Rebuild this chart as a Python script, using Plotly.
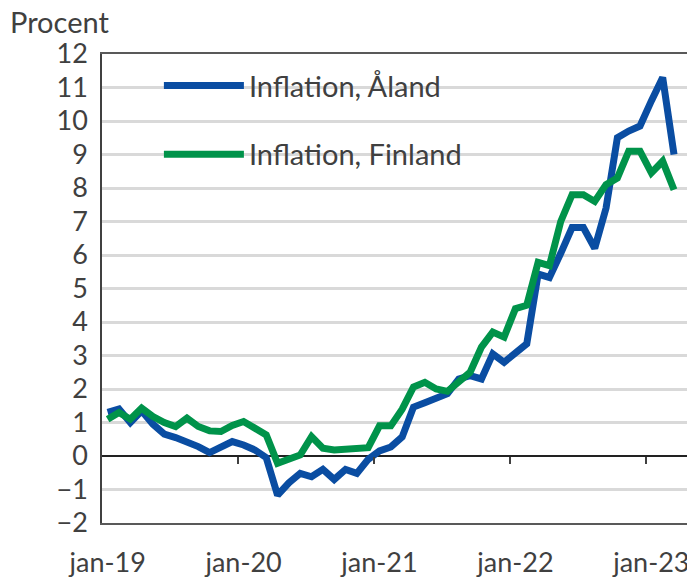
import plotly.graph_objects as go

# Months jan-19 .. mar-23 (51 monthly observations)
months = ["jan-19","feb-19","mar-19","apr-19","maj-19","jun-19","jul-19","aug-19","sep-19","okt-19","nov-19","dec-19",
          "jan-20","feb-20","mar-20","apr-20","maj-20","jun-20","jul-20","aug-20","sep-20","okt-20","nov-20","dec-20",
          "jan-21","feb-21","mar-21","apr-21","maj-21","jun-21","jul-21","aug-21","sep-21","okt-21","nov-21","dec-21",
          "jan-22","feb-22","mar-22","apr-22","maj-22","jun-22","jul-22","aug-22","sep-22","okt-22","nov-22","dec-22",
          "jan-23","feb-23","mar-23"]

aland = [1.3, 1.4, 1.0, 1.35, 0.95, 0.65, 0.55, 0.42, 0.28, 0.1, 0.28, 0.43,
         0.33, 0.18, -0.05, -1.17, -0.8, -0.52, -0.62, -0.4, -0.7, -0.4, -0.52, -0.1,
         0.15, 0.27, 0.57, 1.46, 1.59, 1.73, 1.86, 2.3, 2.4, 2.3, 3.05, 2.8,
         3.05, 3.35, 5.43, 5.33, 6.05, 6.82, 6.82, 6.2, 7.4, 9.5, 9.7, 9.85,
         10.6, 11.3, 9.0]

finland = [1.1, 1.3, 1.1, 1.43, 1.18, 1.0, 0.88, 1.13, 0.88, 0.75, 0.73, 0.91,
           1.03, 0.83, 0.63, -0.22, -0.07, 0.03, 0.58, 0.23, 0.18, 0.2, 0.23, 0.25,
           0.9, 0.9, 1.4, 2.06, 2.2, 2.0, 1.93, 2.25, 2.5, 3.25, 3.7, 3.55,
           4.4, 4.5, 5.78, 5.68, 7.0, 7.8, 7.8, 7.6, 8.1, 8.3, 9.1, 9.1,
           8.45, 8.8, 7.95]

tick_labels = ["jan-19", "jan-20", "jan-21", "jan-22", "jan-23"]
y_ticks = list(range(-2, 13))

n_slots = 52  # axis spans jan-19 .. apr-23 (month slots)
xpos = [i + 0.5 for i in range(len(months))]
label_pos = [months.index(t) + 0.5 for t in tick_labels]
tick_marks = [months.index(t) for t in tick_labels[1:]]

FONT = "Lato"
TXT = "#404040"
BLUE = "#0A4DA2"
GREEN = "#00934A"

fig = go.Figure()
fig.add_trace(go.Scatter(x=xpos, y=aland, mode="lines", name="Inflation, Åland",
                         line=dict(color=BLUE, width=7), legendgroup="a",
                         text=months, hovertemplate="%{text}: %{y}<extra></extra>"))
fig.add_trace(go.Scatter(x=xpos, y=finland, mode="lines", name="Inflation, Finland",
                         line=dict(color=GREEN, width=7), legendgroup="b",
                         text=months, hovertemplate="%{text}: %{y}<extra></extra>"))
# helper (empty) trace so the overlay axis carrying the tick marks on the zero line is drawn
fig.add_trace(go.Scatter(x=[], y=[], xaxis="x2", showlegend=False, hoverinfo="skip"))

# the page body adds an 8px offset, so the figure is sized to fill the rest of the window
fig.update_layout(
    width=687, height=573,
    margin=dict(l=94, r=4, t=46, b=58, autoexpand=False),
    paper_bgcolor="white", plot_bgcolor="white",
    font=dict(family=FONT, size=27, color=TXT),
    showlegend=True,
    legend=dict(x=0.0966, y=0.987, xanchor="left", yanchor="top",
                bgcolor="rgba(0,0,0,0)", itemwidth=80,
                traceorder="grouped", tracegroupgap=28,
                font=dict(family=FONT, size=29, color=TXT)),
    xaxis=dict(range=[0, n_slots], tickmode="array", tickvals=label_pos, ticktext=tick_labels,
               ticks="", showgrid=False, zeroline=False,
               showline=True, linecolor="#595959", linewidth=1.5, mirror=True,
               ticklabelstandoff=15, tickfont=dict(family=FONT, size=27, color=TXT),
               fixedrange=True, automargin=False),
    xaxis2=dict(overlaying="x", matches="x", anchor="free", position=2/14,
                tickmode="array", tickvals=tick_marks, ticks="outside", ticklen=7,
                tickcolor="#404040", tickwidth=1.5, showticklabels=False,
                showgrid=False, zeroline=False, showline=False),
    yaxis=dict(range=[-2, 12], tickmode="array", tickvals=y_ticks,
               showgrid=True, gridcolor="#D9D9D9", gridwidth=2.5,
               zeroline=True, zerolinecolor="#222222", zerolinewidth=1.5,
               showline=True, linecolor="#404040", linewidth=1.5, mirror=True,
               ticks="", ticklabelstandoff=7,
               tickfont=dict(family=FONT, size=27, color=TXT), fixedrange=True,
               automargin=False),
    annotations=[dict(text="Procent", xref="paper", yref="paper", x=-0.160, y=1.0,
                      xanchor="left", yanchor="bottom", yshift=13, showarrow=False,
                      font=dict(family=FONT, size=29, color=TXT))],
)

fig.write_html("out.html")
